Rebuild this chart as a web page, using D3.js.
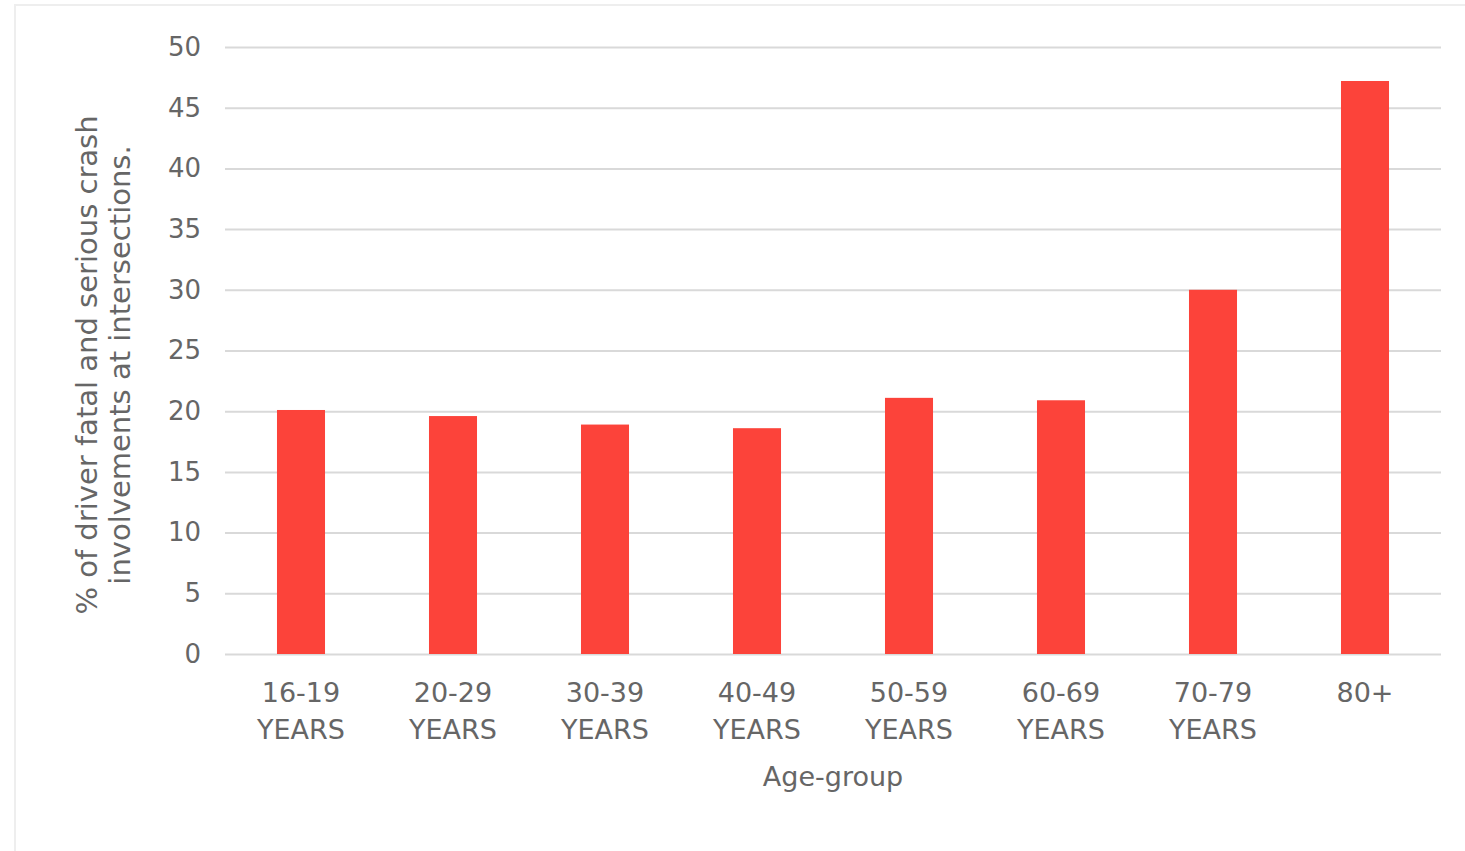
<!DOCTYPE html>
<html>
<head>
<meta charset="utf-8">
<script src="https://cdn.jsdelivr.net/npm/d3@7"></script>
<style>
  html, body { margin: 0; padding: 0; background: #fff; }
  svg { display: block; }
  text { font-family: "DejaVu Sans", sans-serif; fill: #666666; }
</style>
</head>
<body>
<svg id="chart" width="1465" height="851"></svg>
<script>
const categories = [["16-19", "YEARS"], ["20-29", "YEARS"], ["30-39", "YEARS"], ["40-49", "YEARS"],
                    ["50-59", "YEARS"], ["60-69", "YEARS"], ["70-79", "YEARS"], ["80+"]];
const values = [20.1, 19.6, 18.9, 18.6, 21.1, 20.9, 30.0, 47.2];
const yTicks = [0, 5, 10, 15, 20, 25, 30, 35, 40, 45, 50];
const xTitle = "Age-group";
const yTitle = ["% of driver fatal and serious crash", "involvements at intersections."];

const svg = d3.select("#chart");
const W = 1465, H = 851;
const plot = { left: 225, right: 1441, top: 47, bottom: 654 };

// frame
svg.append("path")
  .attr("d", `M15,${H + 2} V5 H${W + 2}`)
  .attr("fill", "none").attr("stroke", "#eeeeee").attr("stroke-width", 2);

const keys = categories.map(c => c.join(" "));
const x = d3.scaleBand().domain(keys).range([plot.left, plot.right])
  .paddingInner(0.684).paddingOuter(0.342);
const y = d3.scaleLinear().domain([0, 50]).range([plot.bottom, plot.top]);

// gridlines
const yAxis = d3.axisLeft(y).tickValues(yTicks).tickSize(-(plot.right - plot.left)).tickPadding(24);
const gy = svg.append("g").attr("transform", `translate(${plot.left},0)`).call(yAxis);
gy.select(".domain").remove();
gy.selectAll(".tick line").attr("stroke", "#d9d9d9").attr("stroke-width", 2);
gy.selectAll(".tick text").attr("font-size", 26).attr("fill", "#666666")
  .attr("font-family", "DejaVu Sans, sans-serif");

// bars
svg.append("g").selectAll("rect").data(values).join("rect")
  .attr("x", (d, i) => x(keys[i]))
  .attr("width", x.bandwidth())
  .attr("y", d => y(d))
  .attr("height", d => y(0) - y(d))
  .attr("fill", "#fc433a");

// x labels
const xl = svg.append("g");
categories.forEach((c, i) => {
  const cx = x(keys[i]) + x.bandwidth() / 2;
  const t = xl.append("text").attr("text-anchor", "middle").attr("font-size", 27);
  c.forEach((line, j) => {
    t.append("tspan").attr("x", cx).attr("y", 702 + j * 37).text(line);
  });
});

// x title
svg.append("text").attr("x", 833).attr("y", 786).attr("text-anchor", "middle")
  .attr("font-size", 27).text(xTitle);

// y title
const yt = svg.append("text").attr("transform", "translate(0,365) rotate(-90)")
  .attr("text-anchor", "middle").attr("font-size", 29);
yTitle.forEach((line, j) => {
  yt.append("tspan").attr("x", 0).attr("y", 97 + j * 33).text(line);
});
</script>
</body>
</html>
